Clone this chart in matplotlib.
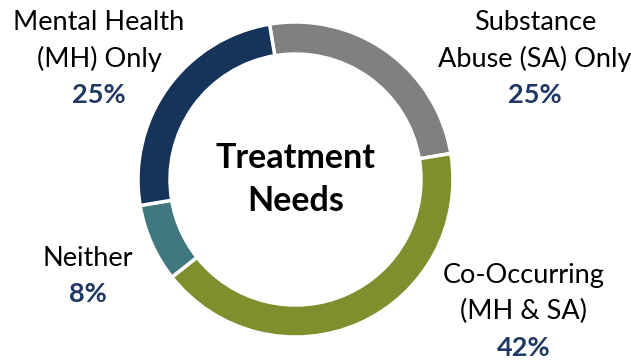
import matplotlib.pyplot as plt

categories = ['Substance\nAbuse (SA) Only', 'Co-Occurring\n(MH & SA)', 'Neither', 'Mental Health\n(MH) Only']
shares = [25, 42, 8, 25]
colors = ['#808080', '#7E8F2D', '#41777F', '#163359']
# x centre and y of the first text line, in pixels from the top
label_pos = [(535, 22), (524, 275), (88, 258), (99, 22)]

plt.rcParams['font.family'] = ['Lato', 'DejaVu Sans']

fig = plt.figure(figsize=(6.31, 3.62), dpi=100)
ax = fig.add_axes([0, 0, 1, 1])

ax.pie(shares, colors=colors, startangle=99.5, counterclock=False,
       center=(295.5, 182.5), radius=157.5,
       wedgeprops=dict(width=32, edgecolor='white', linewidth=2.5),
       frame=True)
ax.set_xlim(0, 631)
ax.set_ylim(0, 362)
ax.set_aspect('auto')
ax.axis('off')

step = 36.5
for name, val, (x, y) in zip(categories, shares, label_pos):
    lines = name.split('\n')
    for i, line in enumerate(lines):
        ax.text(x, 362 - (y + i * step), line, ha='center', va='center',
                fontsize=19.5, color='black')
    ax.text(x, 362 - (y + len(lines) * step), f'{val}%', ha='center',
            va='center', fontsize=19.5, fontweight='bold', color='#1F3864')

ax.text(296, 362 - 158, 'Treatment', ha='center', va='center',
        fontsize=24.5, fontweight='bold', color='black')
ax.text(296, 362 - 201, 'Needs', ha='center', va='center',
        fontsize=24.5, fontweight='bold', color='black')

plt.savefig('out.png', dpi=100)
